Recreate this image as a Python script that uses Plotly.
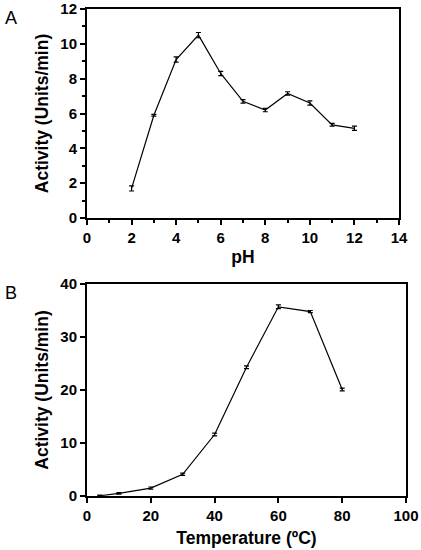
import plotly.graph_objects as go

# Panel A: Aktivität gegen pH
ph = [2, 3, 4, 5, 6, 7, 8, 9, 10, 11, 12]
activity_ph = [1.7, 5.9, 9.1, 10.5, 8.3, 6.7, 6.2, 7.15, 6.6, 5.35, 5.15]
err_ph = [0.15, 0.05, 0.15, 0.15, 0.12, 0.1, 0.1, 0.1, 0.12, 0.08, 0.12]

# Panel B: Aktivität gegen Temperatur
temp = [4, 10, 20, 30, 40, 50, 60, 70, 80]
activity_temp = [0.05, 0.5, 1.5, 4.1, 11.6, 24.3, 35.7, 34.8, 20.1]
err_temp = [0.1, 0.15, 0.2, 0.2, 0.25, 0.25, 0.35, 0.2, 0.25]

W, H = 421, 550
FONT = "Liberation Sans"


def px_x(p):
    return p / W


def px_y(p):
    return 1 - p / H


fig = go.Figure()

fig.add_trace(go.Scatter(
    x=ph, y=activity_ph, mode="lines",
    line=dict(color="black", width=1.2),
    error_y=dict(type="data", array=err_ph, color="black", thickness=1.2, width=2.5),
    xaxis="x", yaxis="y", showlegend=False
))

fig.add_trace(go.Scatter(
    x=temp, y=activity_temp, mode="lines",
    line=dict(color="black", width=1.2),
    error_y=dict(type="data", array=err_temp, color="black", thickness=1.2, width=2.5),
    xaxis="x2", yaxis="y2", showlegend=False
))

achse = dict(
    showline=True, linecolor="black", linewidth=2, mirror=True,
    ticks="outside", ticklen=5, tickwidth=2, tickcolor="black",
    showgrid=False, zeroline=False, automargin=False,
    tickfont=dict(family=FONT, size=15, color="black", weight="bold"),
    title_font=dict(family=FONT, size=17.5, color="black", weight="bold"),
)
minor = dict(ticks="outside", ticklen=3, tickwidth=2, tickcolor="black", dtick=1, showgrid=False)

fig.update_layout(
    width=W, height=H,
    margin=dict(l=0, r=0, t=0, b=0),
    plot_bgcolor="white", paper_bgcolor="white",
    xaxis=dict(achse, domain=[px_x(87), px_x(399)], range=[0, 14], dtick=2,
               minor=minor, anchor="y", title=dict(text="pH", standoff=6)),
    yaxis=dict(achse, domain=[px_y(218), px_y(9)], range=[0, 12], dtick=2,
               minor=minor, anchor="x", title=dict(text="Activity (Units/min)", standoff=7)),
    xaxis2=dict(achse, domain=[px_x(87), px_x(406)], range=[0, 100], dtick=20,
                anchor="y2", title=dict(text="Temperature (ºC)", standoff=9)),
    yaxis2=dict(achse, domain=[px_y(496), px_y(284)], range=[0, 40], dtick=10,
                anchor="x2", title=dict(text="Activity (Units/min)", standoff=7)),
    annotations=[
        dict(text="A", x=px_x(3), y=px_y(6), xref="paper", yref="paper",
             xanchor="left", yanchor="top", showarrow=False,
             font=dict(family=FONT, size=18, color="black")),
        dict(text="B", x=px_x(3), y=px_y(281), xref="paper", yref="paper",
             xanchor="left", yanchor="top", showarrow=False,
             font=dict(family=FONT, size=18, color="black")),
    ],
)

# Body-Rand des Browsers entfernen, sonst ist alles um 8px verschoben
fig.write_html("out.html", config={"displayModeBar": False},
               post_script="document.body.style.margin = '0';")
